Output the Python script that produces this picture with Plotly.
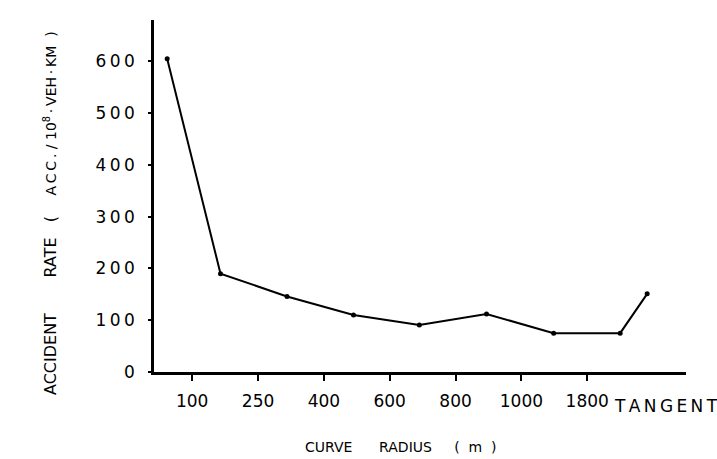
import plotly.graph_objects as go

# x tick labels (class boundaries of curve radius, m)
tick_labels = ["100", "250", "400", "600", "800", "1000", "1800"]
tick_pos = [1, 2, 3, 4, 5, 6, 7]
tangent_label = "TANGENT"
tangent_pos = 8.19

# data points (position on the radius-class axis, accident rate)
point_pos = [0.62, 1.43, 2.44, 3.45, 4.45, 5.47, 6.49, 7.5, 7.91]
accident_rate = [605, 190, 146, 110, 91, 112, 75, 75, 151]

y_ticks = [0, 100, 200, 300, 400, 500, 600]

FONT = "DejaVu Sans"
thin = "\u2009"
nb = "\u00a0"

def spaced(s, sep=thin):
    return sep.join(list(s))

fig = go.Figure()
fig.add_trace(go.Scatter(
    x=point_pos, y=accident_rate, mode="lines+markers",
    line=dict(color="black", width=2),
    marker=dict(color="black", size=5),
    showlegend=False, hoverinfo="skip"))

fig.update_layout(
    width=717, height=459,
    margin=dict(l=154, r=31, t=20, b=87),
    paper_bgcolor="white", plot_bgcolor="white",
    font=dict(family=FONT, color="black"),
    xaxis=dict(range=[0.42, 8.5], tickmode="array", tickvals=tick_pos,
               ticktext=tick_labels, ticks="outside", ticklen=6, tickwidth=2,
               tickcolor="black", showline=True, linecolor="black", linewidth=2.5,
               showgrid=False, zeroline=False, tickfont=dict(size=17, family=FONT),
               ticklabelstandoff=6),
    yaxis=dict(range=[0, 680], tickmode="array", tickvals=y_ticks,
               ticktext=[spaced(str(v)) for v in y_ticks], ticks="outside",
               ticklen=3, tickwidth=2, tickcolor="black", showline=True,
               linecolor="black", linewidth=2.5, showgrid=False, zeroline=False,
               tickfont=dict(size=17, family=FONT), ticklabelstandoff=10),
)

fig.add_annotation(x=tangent_pos, y=0, xref="x", yref="y", text=spaced(tangent_label),
                   showarrow=False, yanchor="top", yshift=-22,
                   font=dict(size=17, family=FONT))

PW, PH = 717 - 154 - 31, 459 - 87 - 20

x_title = "CURVE" + nb * 6 + "RADIUS" + nb * 5 + "(" + nb * 2 + "m" + nb * 2 + ")"
fig.add_annotation(xref="x domain", yref="y domain",
                   x=(303 - 154) / PW, y=(372 - 447) / PH,
                   text=x_title, showarrow=False, xanchor="left", yanchor="middle",
                   font=dict(size=14, family=FONT))

right_part = ('<span style="font-size:14px">' + spaced("ACC.") + nb + "/" + nb +
              "10<sup>8</sup>" + thin + "·" + thin + "VEH" + thin + "·" + thin +
              "KM" + nb * 2 + ")</span>")
y_title = "ACCIDENT" + nb * 7 + "RATE" + nb * 3 + "(" + nb * 4 + right_part
fig.add_annotation(xref="x domain", yref="y domain",
                   x=(50 - 154) / PW, y=(372 - 397) / PH,
                   text=y_title, textangle=-90, showarrow=False,
                   xanchor="center", yanchor="bottom",
                   font=dict(size=16, family=FONT))

fig.write_html("out.html")
